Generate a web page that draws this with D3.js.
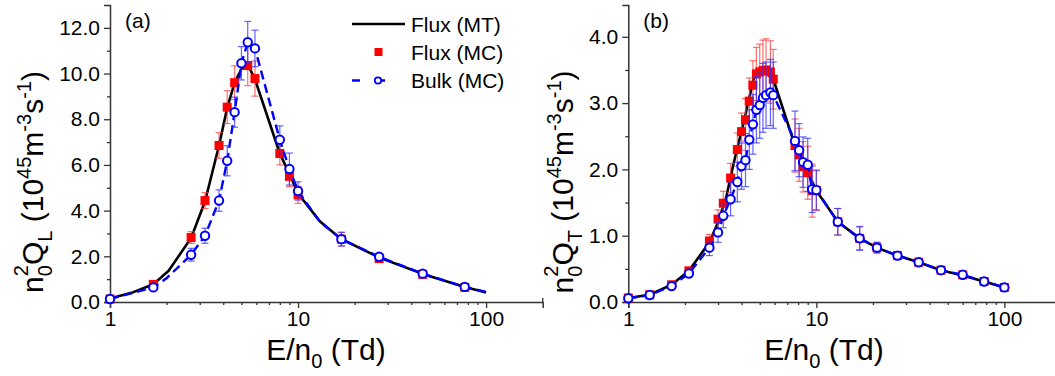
<!DOCTYPE html>
<html>
<head>
<meta charset="utf-8">
<script src="https://cdn.jsdelivr.net/npm/d3@7"></script>
<style>
  body { margin: 0; background: #fff; }
  svg { font-family: Arial, "Liberation Sans", sans-serif; }
</style>
</head>
<body>
<div id="chart"></div>
<script>
// panel (a): longitudinal
var mtEA = [1, 1.3, 1.7, 2.05, 2.7, 3.2, 3.8, 4.2, 4.6, 5.0, 5.4, 5.9, 8.0, 9.0, 10, 13.1, 17, 27, 46, 77, 100];
var mtQA = [0.15, 0.4, 0.78, 1.37, 2.8, 4.4, 6.85, 8.5, 9.6, 10.2, 10.4, 9.75, 6.5, 5.6, 4.75, 3.52, 2.75, 1.95, 1.23, 0.66, 0.42];
var fluxEA = [1, 1.7, 2.7, 3.2, 3.8, 4.2, 4.6, 5.4, 5.9, 8.0, 9.0, 10, 17, 27, 46, 77];
var fluxQA = [0.13, 0.77, 2.82, 4.44, 6.85, 8.53, 9.6, 10.35, 9.78, 6.5, 5.5, 4.69, 2.75, 1.9, 1.21, 0.64];
var fluxErrA = [0.03, 0.1, 0.26, 0.35, 0.56, 0.72, 0.74, 0.88, 0.77, 0.5, 0.45, 0.37, 0.3, 0.06, 0.05, 0.05];
var bulkEA = [1, 1.7, 2.7, 3.2, 3.8, 4.2, 4.6, 5.0, 5.4, 5.9, 8.0, 9.0, 10, 17, 27, 46, 77];
var bulkQA = [0.13, 0.64, 2.07, 2.9, 4.44, 6.18, 8.31, 10.45, 11.37, 11.1, 7.1, 5.82, 4.86, 2.75, 1.98, 1.24, 0.66];
var bulkErrA = [0.03, 0.08, 0.28, 0.33, 0.47, 0.66, 0.66, 0.73, 0.91, 0.8, 0.61, 0.7, 0.4, 0.3, 0.05, 0.05, 0.05];
var bulkLineEA = [1, 1.7, 2.0, 2.7, 3.2, 3.8, 4.2, 4.6, 5.0, 5.4, 5.9, 8.0, 9.0, 10, 13.1, 17, 27, 46, 77, 100];
var bulkLineQA = [0.13, 0.64, 1.04, 2.07, 2.9, 4.44, 6.18, 8.31, 10.45, 11.37, 11.1, 7.1, 5.82, 4.86, 3.5, 2.75, 1.98, 1.24, 0.66, 0.45];

// panel (b): transverse
var mtEB = [1, 1.3, 1.7, 2.1, 2.7, 3.0, 3.3, 3.63, 4.1, 4.64, 5.0, 5.5, 6.0, 7.7, 10, 13, 17, 21, 27, 35, 46, 60, 78, 100];
var mtQB = [0.06, 0.11, 0.26, 0.47, 0.9, 1.2, 1.55, 2.09, 2.7, 3.37, 3.47, 3.45, 3.3, 2.36, 1.68, 1.21, 0.96, 0.82, 0.70, 0.60, 0.48, 0.40, 0.31, 0.22];
var mcEB = [1, 1.3, 1.7, 2.1, 2.7, 3.0, 3.2, 3.5, 3.8, 4.0, 4.2, 4.4, 4.6, 4.8, 5.0, 5.2, 5.4, 5.7, 5.9, 7.7, 8.1, 8.5, 9.0, 9.5, 10, 13, 17, 21, 27, 35, 46, 60, 78, 100];
var fluxQB = [0.06, 0.11, 0.26, 0.47, 0.92, 1.25, 1.49, 1.87, 2.30, 2.57, 2.75, 3.03, 3.27, 3.44, 3.47, 3.49, 3.50, 3.47, 3.36, 2.36, 2.22, 2.04, 1.95, 1.68, 1.68, 1.21, 0.96, 0.82, 0.70, 0.60, 0.48, 0.41, 0.31, 0.22];
var fluxErrB = [0.03, 0.03, 0.03, 0.04, 0.1, 0.14, 0.18, 0.22, 0.25, 0.28, 0.32, 0.35, 0.37, 0.4, 0.42, 0.46, 0.47, 0.47, 0.45, 0.4, 0.4, 0.38, 0.4, 0.4, 0.3, 0.2, 0.17, 0.08, 0.06, 0.04, 0.04, 0.04, 0.04, 0.04];
var bulkQB = [0.056, 0.105, 0.24, 0.43, 0.82, 1.05, 1.30, 1.55, 1.81, 2.05, 2.14, 2.45, 2.68, 2.90, 2.97, 3.08, 3.12, 3.16, 3.12, 2.43, 2.29, 2.11, 2.07, 1.70, 1.69, 1.21, 0.96, 0.82, 0.70, 0.60, 0.48, 0.41, 0.31, 0.22];
var bulkErrB = [0.03, 0.03, 0.03, 0.04, 0.12, 0.15, 0.18, 0.25, 0.3, 0.35, 0.4, 0.45, 0.45, 0.5, 0.5, 0.52, 0.5, 0.5, 0.5, 0.45, 0.4, 0.38, 0.4, 0.35, 0.3, 0.2, 0.18, 0.08, 0.05, 0.05, 0.05, 0.05, 0.05, 0.05];

var xMajor = [1, 10, 100];
var xMinor = [2, 3, 4, 5, 6, 7, 8, 9, 20, 30, 40, 50, 60, 70, 80, 90];
var yMajorA = [0, 2, 4, 6, 8, 10, 12];
var yMinorA = [1, 3, 5, 7, 9, 11];
var yMajorB = [0, 1, 2, 3, 4];
var yMinorB = [0.5, 1.5, 2.5, 3.5];
var legendLabels = ["Flux (MT)", "Flux (MC)", "Bulk (MC)"];

var W = 1055, H = 376;
var svg = d3.select("#chart").append("svg")
  .attr("width", W)
  .attr("height", H);

function zip(xs, ys, es) {
  return xs.map((d, i) => ({ e: d, q: ys[i], err: es ? es[i] : 0 }));
}

function drawPanel(p) {
  var x = d3.scaleLog().domain([1, 200]).range([p.left, p.left + 432.7]);
  var y = d3.scaleLinear().domain([0, p.yMax]).range([302, 5]);
  var g = svg.append("g");

  // axes
  g.append("g").attr("transform", "translate(0,302)")
    .call(d3.axisBottom(x).tickValues(xMajor).tickSize(6).tickPadding(3).tickFormat(d3.format("d")));
  g.append("g").attr("transform", "translate(0,302)")
    .call(d3.axisBottom(x).tickValues(xMinor).tickSize(3).tickFormat(""))
    .select(".domain").remove();
  g.append("g").attr("transform", "translate(" + p.left + ",0)")
    .call(d3.axisLeft(y).tickValues(p.yMajor).tickSize(6).tickPadding(4).tickFormat(d3.format(".1f")));
  g.append("g").attr("transform", "translate(" + p.left + ",0)")
    .call(d3.axisLeft(y).tickValues(p.yMinor).tickSize(3).tickFormat(""))
    .select(".domain").remove();
  // small end mark at the right of the x axis
  g.append("line")
    .attr("x1", x(200)).attr("x2", x(200))
    .attr("y1", 302).attr("y2", 298)
    .attr("stroke", "#333").attr("stroke-width", 1.3);
  g.selectAll(".domain").attr("stroke", "#333").attr("stroke-width", 1.5);
  g.selectAll(".tick line").attr("stroke", "#333").attr("stroke-width", 1.3);
  g.selectAll(".tick text").attr("font-size", 21).attr("fill", "#000")
    .attr("font-family", "Arial, 'Liberation Sans', sans-serif");

  var line = d3.line().x(d => x(d.e)).y(d => y(d.q));

  // MT curve
  g.append("path").datum(zip(p.mtE, p.mtQ))
    .attr("d", line)
    .attr("fill", "none").attr("stroke", "#000").attr("stroke-width", 2.6)
    .attr("stroke-linejoin", "round");

  // flux MC error bars + squares
  var flux = zip(p.fluxE, p.fluxQ, p.fluxErr);
  var fe = g.append("g").attr("stroke", "#ff4040").attr("stroke-opacity", 0.75).attr("stroke-width", 1.2);
  flux.forEach(d => {
    fe.append("line").attr("x1", x(d.e)).attr("x2", x(d.e)).attr("y1", y(d.q - d.err)).attr("y2", y(d.q + d.err));
    fe.append("line").attr("x1", x(d.e) - 3.5).attr("x2", x(d.e) + 3.5).attr("y1", y(d.q - d.err)).attr("y2", y(d.q - d.err));
    fe.append("line").attr("x1", x(d.e) - 3.5).attr("x2", x(d.e) + 3.5).attr("y1", y(d.q + d.err)).attr("y2", y(d.q + d.err));
  });
  g.selectAll(".sq").data(flux).enter().append("rect")
    .attr("x", d => x(d.e) - 4.5).attr("y", d => y(d.q) - 4.5)
    .attr("width", 9).attr("height", 9)
    .attr("fill", "#ff0000");

  // bulk MC line, error bars, circles
  g.append("path").datum(zip(p.bulkLineE, p.bulkLineQ))
    .attr("d", line)
    .attr("fill", "none").attr("stroke", "#0000ff").attr("stroke-width", 2.4)
    .attr("stroke-dasharray", "9,5");
  var bulk = zip(p.bulkE, p.bulkQ, p.bulkErr);
  var be = g.append("g").attr("stroke", "#3030ff").attr("stroke-opacity", 0.75).attr("stroke-width", 1.2);
  bulk.forEach(d => {
    be.append("line").attr("x1", x(d.e)).attr("x2", x(d.e)).attr("y1", y(d.q - d.err)).attr("y2", y(d.q + d.err));
    be.append("line").attr("x1", x(d.e) - 3.5).attr("x2", x(d.e) + 3.5).attr("y1", y(d.q - d.err)).attr("y2", y(d.q - d.err));
    be.append("line").attr("x1", x(d.e) - 3.5).attr("x2", x(d.e) + 3.5).attr("y1", y(d.q + d.err)).attr("y2", y(d.q + d.err));
  });
  g.selectAll(".ci").data(bulk).enter().append("circle")
    .attr("cx", d => x(d.e)).attr("cy", d => y(d.q)).attr("r", 4.2)
    .attr("fill", "#fff").attr("stroke", "#0000ff").attr("stroke-width", 2);

  // panel label
  g.append("text").attr("x", p.left + 15).attr("y", 28)
    .attr("font-size", 21).text(p.label);

  // x title
  var xt = g.append("text").attr("x", p.xTitleX).attr("y", 360)
    .attr("text-anchor", "middle").attr("font-size", 30);
  xt.append("tspan").text("E/n");
  xt.append("tspan").attr("font-size", 20).attr("dy", 8).text("0");
  xt.append("tspan").attr("dy", -8).text(" (Td)");

  // y title
  var yt = g.append("text")
    .attr("transform", "translate(" + p.yTitleX + ",182) rotate(-90)")
    .attr("text-anchor", "middle").attr("font-size", 30);
  yt.append("tspan").text("n");
  yt.append("tspan").attr("font-size", 20).attr("dy", 9).text("0");
  yt.append("tspan").attr("font-size", 20).attr("dx", -11).attr("dy", -24).text("2");
  yt.append("tspan").attr("dy", 15).text("Q");
  yt.append("tspan").attr("font-size", 20).attr("dy", 9).text(p.sub);
  yt.append("tspan").attr("dy", -9).text(" (10");
  yt.append("tspan").attr("font-size", 20).attr("dy", -12).text("45");
  yt.append("tspan").attr("dy", 12).text("m");
  yt.append("tspan").attr("font-size", 20).attr("dy", -12).text("-3");
  yt.append("tspan").attr("dy", 12).text("s");
  yt.append("tspan").attr("font-size", 20).attr("dy", -12).text("-1");
  yt.append("tspan").attr("dy", 12).text(")");
}

drawPanel({
  left: 110, yMax: 13, yMajor: yMajorA, yMinor: yMinorA, label: "(a)", sub: "L",
  xTitleX: 326, yTitleX: 43,
  mtE: mtEA, mtQ: mtQA,
  fluxE: fluxEA, fluxQ: fluxQA, fluxErr: fluxErrA,
  bulkE: bulkEA, bulkQ: bulkQA, bulkErr: bulkErrA,
  bulkLineE: bulkLineEA, bulkLineQ: bulkLineQA
});
drawPanel({
  left: 628.3, yMax: 4.48, yMajor: yMajorB, yMinor: yMinorB, label: "(b)", sub: "T",
  xTitleX: 824, yTitleX: 573,
  mtE: mtEB, mtQ: mtQB,
  fluxE: mcEB, fluxQ: fluxQB, fluxErr: fluxErrB,
  bulkE: mcEB, bulkQ: bulkQB, bulkErr: bulkErrB,
  bulkLineE: mcEB, bulkLineQ: bulkQB
});

// legend (panel a)
var lg = svg.append("g").attr("font-size", 21);
var legY = [24, 52, 80.5];
lg.append("line").attr("x1", 352).attr("x2", 405).attr("y1", legY[0]).attr("y2", legY[0])
  .attr("stroke", "#000").attr("stroke-width", 2.6);
lg.append("rect").attr("x", 374.5).attr("y", legY[1] - 4).attr("width", 8).attr("height", 8).attr("fill", "#ff0000");
lg.append("line").attr("x1", 352).attr("x2", 397).attr("y1", legY[2]).attr("y2", legY[2])
  .attr("stroke", "#0000ff").attr("stroke-width", 2.4).attr("stroke-dasharray", "8,17");
lg.append("circle").attr("cx", 378).attr("cy", legY[2]).attr("r", 3.2)
  .attr("fill", "#fff").attr("stroke", "#0000ff").attr("stroke-width", 1.8);
legendLabels.forEach((t, i) => {
  lg.append("text").attr("x", 411).attr("y", legY[i]).attr("dy", "0.36em").text(t);
});
</script>
</body>
</html>
